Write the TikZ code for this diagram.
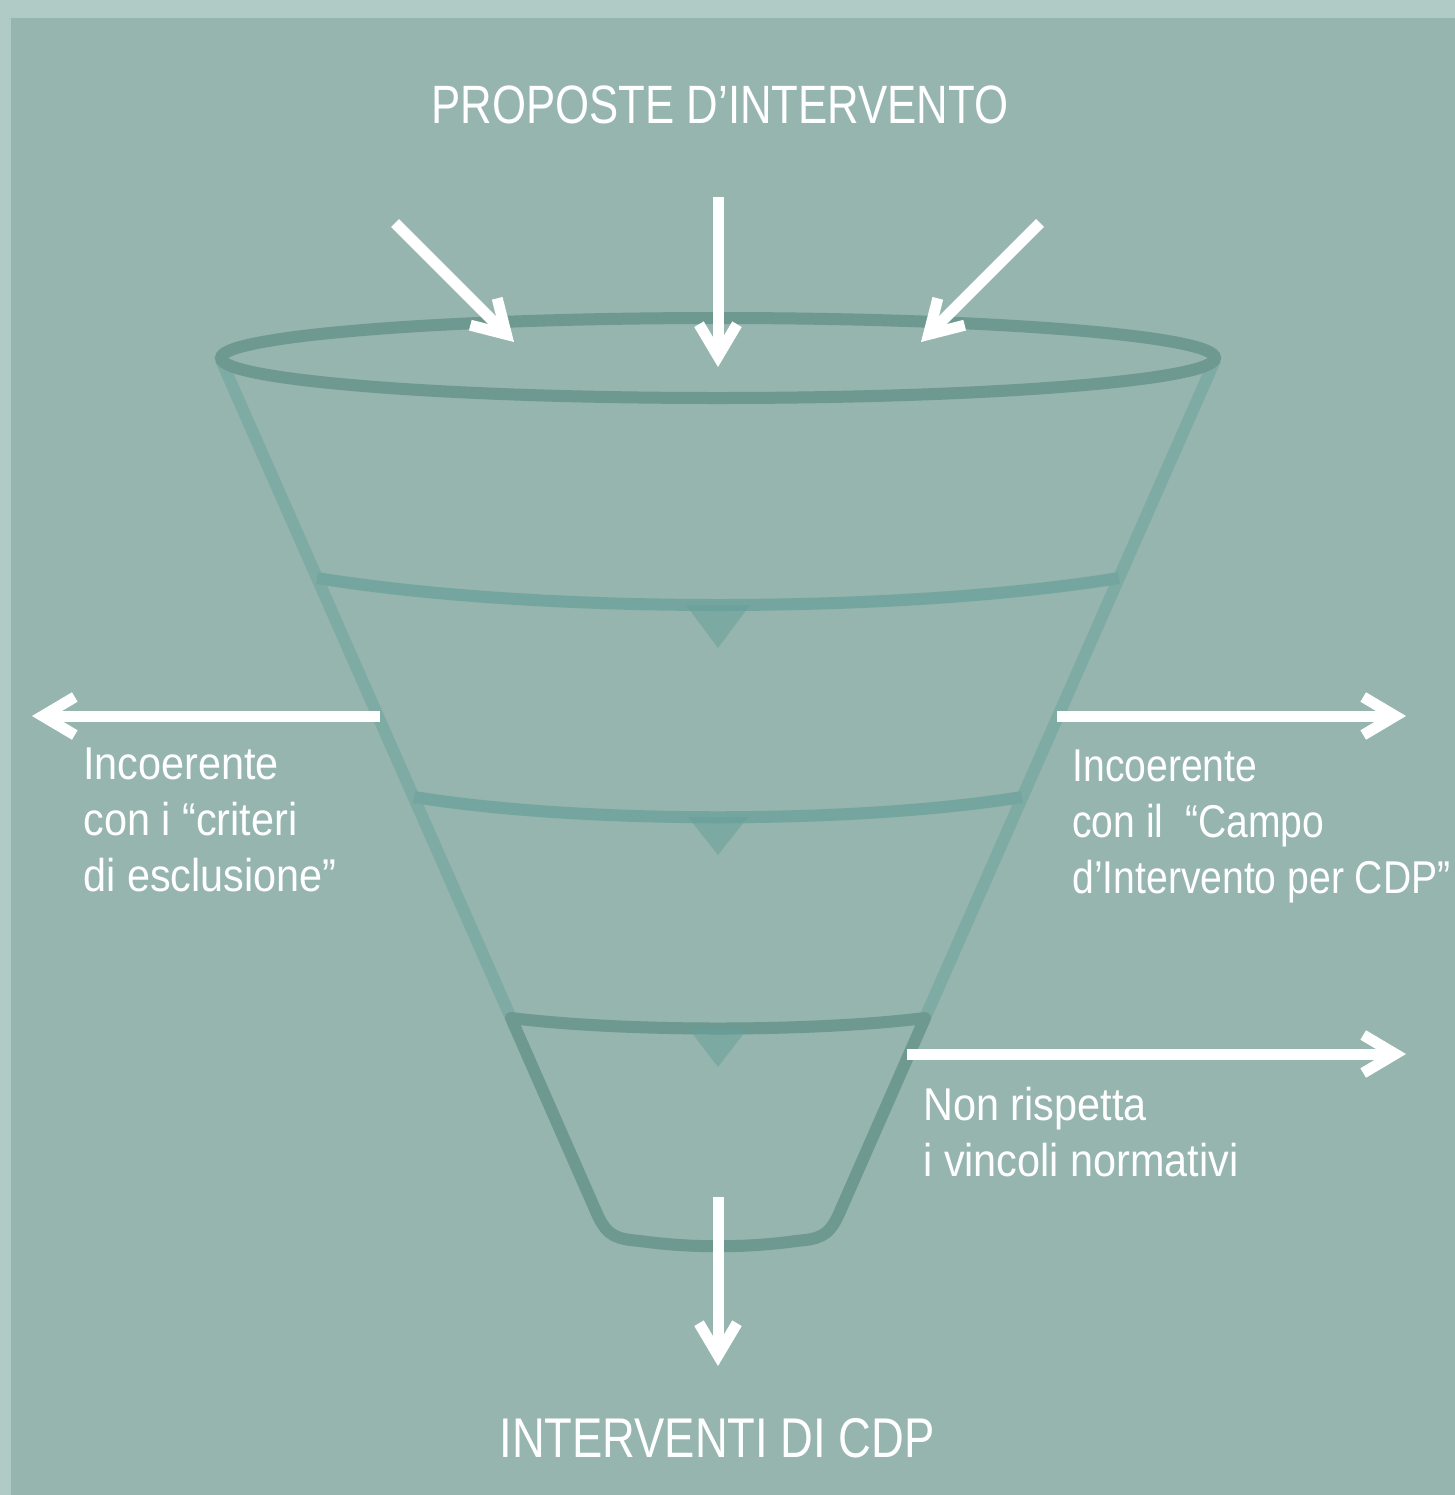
\documentclass[tikz,border=0pt]{standalone}
\usepackage{fontspec}
\setmainfont{Liberation Sans}[FakeStretch=0.9]
\newfontfamily\headfont{Liberation Sans}[FakeStretch=0.81]
\newfontfamily\narrowfont{Liberation Sans}[FakeStretch=0.85]
\usepackage{tikz}
\usetikzlibrary{arrows.meta}
\definecolor{mybg1}{RGB}{176, 202, 198}
\definecolor{mybg2}{RGB}{149, 181, 174}
\definecolor{myteal1}{RGB}{127, 171, 165}
\definecolor{myteal2}{RGB}{117, 165, 159}
\definecolor{myteal3}{RGB}{110, 153, 144}
\definecolor{myteal4}{RGB}{100, 160, 152}
\tikzset{>={Straight Barb[length=16pt, width=19pt]}}
\tikzset{whitearrow/.style={->, white, line width=5.5pt},
  funnelline/.style={line width=6pt},
  headtext/.style={white, anchor=base, font=\headfont\fontsize{27}{32}\selectfont},
  bodytext/.style={white, anchor=north west, inner sep=0pt, align=left, font=\fontsize{23}{28}\selectfont}}

\begin{document}
\begin{tikzpicture}[x=0.5pt, y=-0.5pt]
\useasboundingbox (0, 0) rectangle (1455, 1495);
\fill[mybg1] (0, 0) rectangle (1455, 1495);
\fill[mybg2] (11, 18) rectangle (1455, 1495);
% funnel
\draw[funnelline, myteal1] (221, 360) -- (511, 1018);
\draw[funnelline, myteal1] (1215, 360) -- (925, 1018);
\draw[funnelline, myteal2] (317, 578) .. controls (538, 614) and (898, 614) .. (1119, 578);
\draw[funnelline, myteal2] (414, 797) .. controls (581, 824) and (855, 824) .. (1022, 797);
\draw[funnelline, myteal3, line join=round] (925, 1018) .. controls (811, 1032) and (625, 1032) .. (511, 1018)
  -- (598, 1216) .. controls (608, 1237) and (618, 1239) .. (640, 1241)
  .. controls (690, 1248) and (746, 1248) .. (796, 1241)
  .. controls (818, 1239) and (828, 1237) .. (838, 1216) -- cycle;
\draw[funnelline, myteal3] (718, 358) ellipse [x radius=497, y radius=40];
\fill[myteal4, opacity=0.5] (686, 605) -- (750, 605) -- (718, 648) -- cycle;
\fill[myteal4, opacity=0.5] (688, 817) -- (748, 817) -- (718, 855) -- cycle;
\fill[myteal4, opacity=0.5] (688, 1028) -- (748, 1028) -- (718, 1067) -- cycle;
% arrows
\coordinate (In1a) at (395, 223);
\coordinate (In1b) at (514, 342);
\coordinate (In2a) at (718, 197);
\coordinate (In2b) at (718, 367);
\coordinate (In3a) at (1040, 223);
\coordinate (In3b) at (921, 342);
\coordinate (Out1a) at (380, 716);
\coordinate (Out1b) at (32, 716);
\coordinate (Out2a) at (1057, 716);
\coordinate (Out2b) at (1406, 716);
\coordinate (Out3a) at (907, 1054);
\coordinate (Out3b) at (1406, 1054);
\coordinate (Res1a) at (718, 1197);
\coordinate (Res1b) at (718, 1366);
\draw[whitearrow] (In1a) -- (In1b);
\draw[whitearrow] (In2a) -- (In2b);
\draw[whitearrow] (In3a) -- (In3b);
\draw[whitearrow] (Out1a) -- (Out1b);
\draw[whitearrow] (Out2a) -- (Out2b);
\draw[whitearrow] (Out3a) -- (Out3b);
\draw[whitearrow] (Res1a) -- (Res1b);
% texts
\node[headtext] (Title1) at (720, 123) {PROPOSTE D’INTERVENTO};
\node[headtext, font=\headfont\fontsize{28}{32}\selectfont] (Title2) at (717, 1457) {INTERVENTI DI CDP};
\node[bodytext] (Text1) at (83, 747) {Incoerente\\con i “criteri\\di esclusione”};
\node[bodytext, font=\narrowfont\fontsize{23}{28}\selectfont] (Text2) at (1072, 749) {Incoerente\\con il\ \ “Campo\\d’Intervento per CDP”};
\node[bodytext] (Text3) at (923, 1087) {Non rispetta\\i vincoli normativi};
\end{tikzpicture}
\end{document}
